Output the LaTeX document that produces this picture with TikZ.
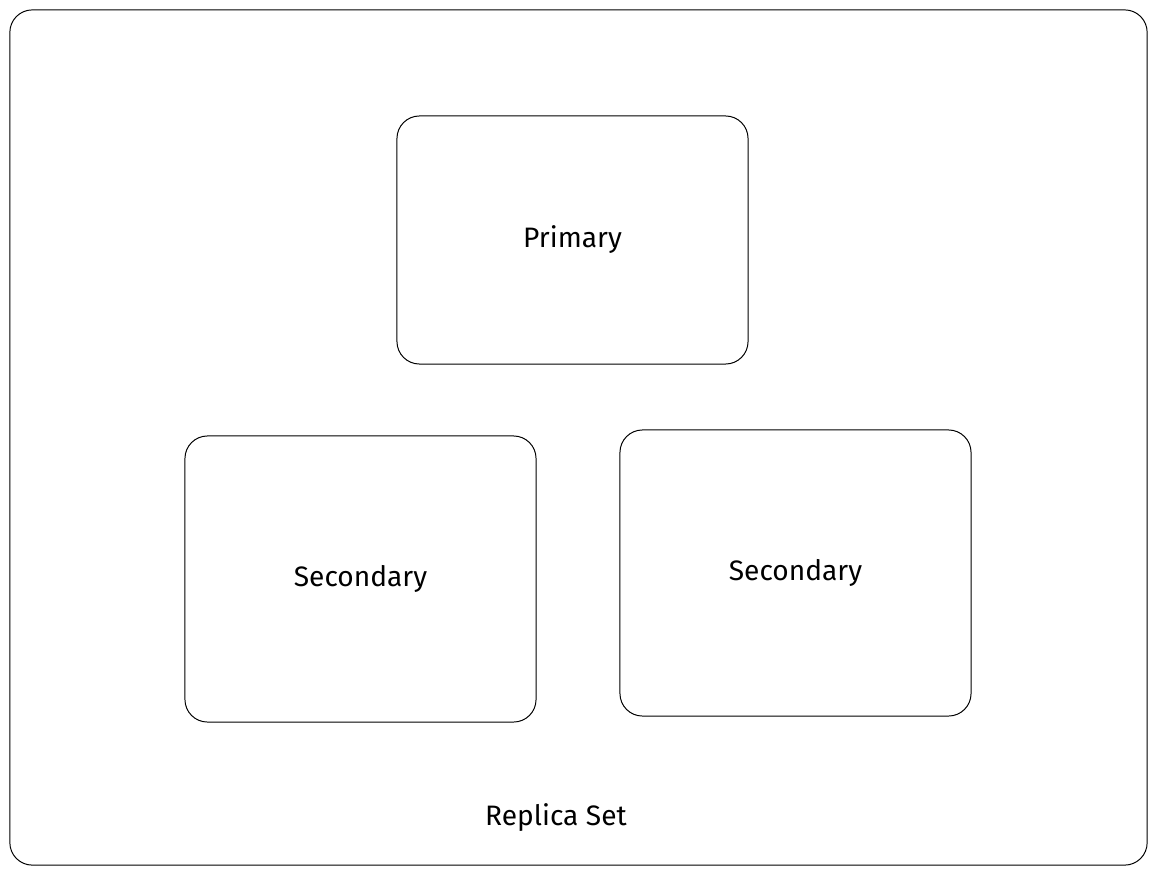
\documentclass[tikz,border=0pt]{standalone}
\usepackage{fontspec}
\setmainfont{Fira Sans}
\usepackage{tikz}
\usetikzlibrary{positioning}
\tikzset{
  setbox/.style={draw=black,rounded corners=16pt,line width=.7pt,minimum width=28.425cm,minimum height=21.375cm,inner sep=0pt},
  memberbox/.style={draw=black,rounded corners=16pt,line width=.7pt,minimum width=8.775cm,inner sep=0pt,font=\fontsize{20}{24}\selectfont},
  setlabel/.style={font=\fontsize{20}{24}\selectfont,inner sep=0pt},
}
\begin{document}
\begin{tikzpicture}[x=0.025cm,y=-0.025cm]
    \useasboundingbox (0,0) rectangle (1157,874);
    \node[setbox] (set) at (578.5,437.5) {};
    \node[memberbox,minimum height=6.2cm] (primary) at (572.5,240) {Primary};
    \node[memberbox,minimum height=7.15cm] (secleft) at (360.5,579) {Secondary};
    \node[memberbox,minimum height=7.15cm] (secright) at (795.5,573) {Secondary};
    \node[setlabel] (setname) at (556,818) {Replica Set};
  \end{tikzpicture}
\end{document}
